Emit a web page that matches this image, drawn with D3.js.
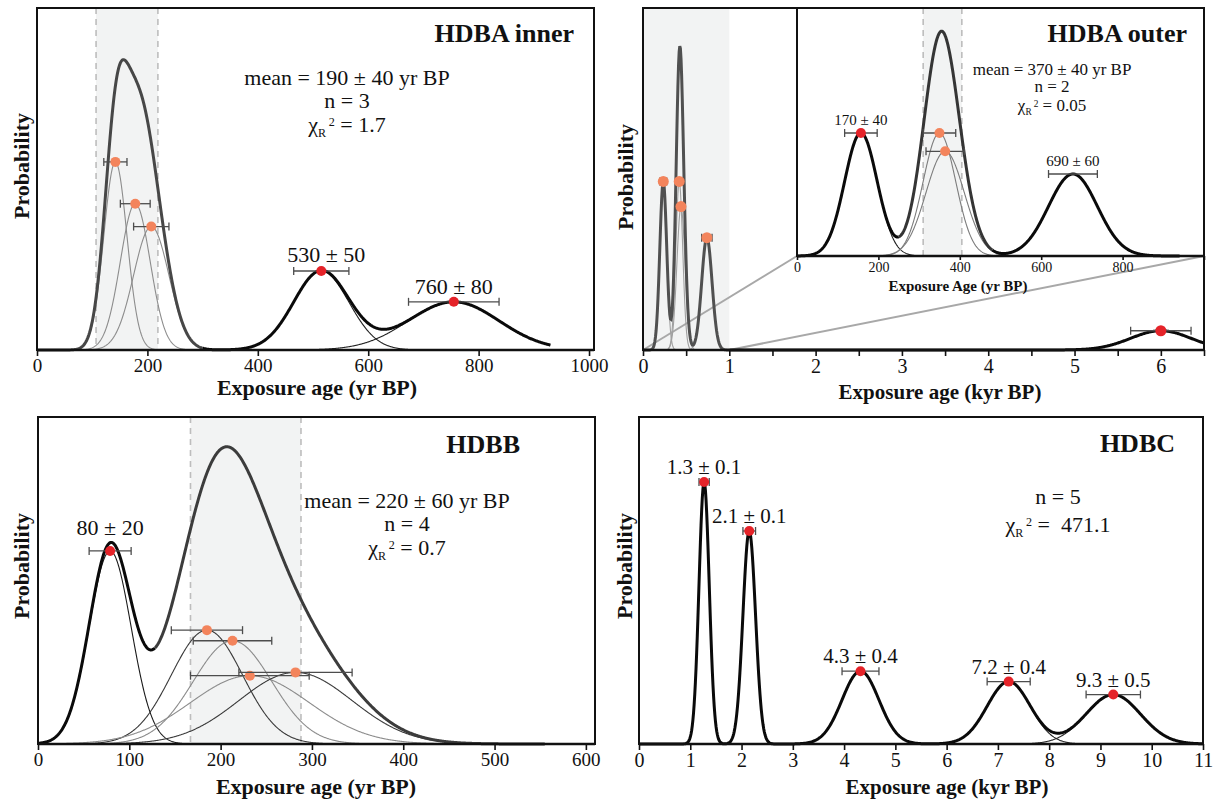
<!DOCTYPE html>
<html><head><meta charset="utf-8">
<script src="https://cdn.jsdelivr.net/npm/d3@7"></script>
<style>
body{margin:0;background:#fff;}
svg{display:block;font-family:"Liberation Serif","Times New Roman",serif;}
</style></head><body>
<svg id="c" width="1214" height="803"></svg>
<script>
// ---------------- DATA ----------------
// HDBA inner (yr BP)
const innerAges   = [142, 178, 207, 515, 755];
const innerErrors = [21, 27, 32, 50, 82];
const innerInMean = [true, true, true, false, false];
const innerLabels = ["", "", "", "530 ± 50", "760 ± 80"];
const innerTicks  = [0, 200, 400, 600, 800, 1000];
const innerBand   = [107, 219];
const innerStats  = ["mean = 190 ± 40 yr BP", "n = 3", "1.7"];

// HDBA outer, main axis (kyr BP)
const outerAges   = [0.235, 0.42, 0.44, 0.74, 6.0];
const outerErrors = [0.04, 0.04, 0.047, 0.06, 0.35];
const outerInMean = [true, true, true, true, false];
const outerTicks  = [0, 0.5, 1, 1.5, 2, 2.5, 3, 3.5, 4, 4.5, 5, 5.5, 6, 6.5];
const outerBand   = [0, 1];

// HDBA outer, inset (yr BP)
const insetAges    = [157, 350, 364, 678];
const insetErrors  = [40, 40, 47, 60];
const insetInMean  = [false, true, true, false];
const insetShowDot = [true, true, true, false];
const insetLabels  = ["170 ± 40", "", "", "690 ± 60"];
const insetTicks   = [0, 200, 400, 600, 800, 1000];
const insetBand    = [310, 405];
const insetStats   = ["mean = 370 ± 40 yr BP", "n = 2", "0.05"];

// HDBB (yr BP)
const bbAges   = [79, 185, 213, 232, 282];
const bbErrors = [23, 39, 43, 65, 62];
const bbInMean = [false, true, true, true, true];
const bbLabels = ["80 ± 20", "", "", "", ""];
const bbTicks  = [0, 100, 200, 300, 400, 500, 600];
const bbBand   = [167, 288];
const bbStats  = ["mean = 220 ± 60 yr BP", "n = 4", "0.7"];

// HDBC (kyr BP)
const bcAges   = [1.27, 2.15, 4.32, 7.21, 9.25];
const bcErrors = [0.1, 0.123, 0.36, 0.42, 0.53];
const bcLabels = ["1.3 ± 0.1", "2.1 ± 0.1", "4.3 ± 0.4", "7.2 ± 0.4", "9.3 ± 0.5"];
const bcTicks  = [0, 1, 2, 3, 4, 5, 6, 7, 8, 9, 10, 11];
const bcStats  = [null, "n = 5", " 471.1"];

// ---------------- DRAWING ----------------
const svg = d3.select("#c");
const ORANGE = "#f3845c", RED = "#e52329", INK = "#111";
const SQ2PI = Math.sqrt(2 * Math.PI);
const pdf = (x, m, s) => Math.exp(-((x - m) ** 2) / (2 * s * s)) / (s * SQ2PI);

function makePanel(o) {
  const g = svg.append("g");
  const x = d3.scaleLinear().domain(o.xDomain).range([o.box.left, o.box.right]);
  const y = d3.scaleLinear().domain([0, o.yMax]).range([o.box.bottom, o.box.top]);
  if (o.bg) g.append("rect").attr("x", o.box.left).attr("y", o.box.top)
      .attr("width", o.box.right - o.box.left).attr("height", o.box.bottom - o.box.top).attr("fill", "#fff");
  if (o.band) {
    g.append("rect").attr("x", x(o.band[0])).attr("y", o.box.top)
      .attr("width", x(o.band[1]) - x(o.band[0])).attr("height", o.box.bottom - o.box.top)
      .attr("fill", "#f2f3f3");
    if (o.bandDashed) o.band.forEach(b => g.append("line")
      .attr("x1", x(b)).attr("x2", x(b)).attr("y1", o.box.top).attr("y2", o.box.bottom)
      .attr("stroke", "#bdbdbd").attr("stroke-width", 1.6).attr("stroke-dasharray", "6,5"));
  }
  const under = g.append("g");
  const n = 900, xs = [];
  for (let i = 0; i <= n; i++) xs.push(o.xStart + (o.xEnd - o.xStart) * i / n);
  if (o.gray) { xs.push(o.gray[0], o.gray[1]); xs.sort((a, b) => a - b); }
  const sum = v => o.ages.reduce((acc, m, i) => acc + pdf(v, m, o.errs[i]), 0);
  const line = d3.line().x(d => x(d[0])).y(d => y(d[1]));
  o.ages.forEach((m, i) => {
    const pts = xs.map(v => [v, pdf(v, m, o.errs[i])]);
    g.append("path").attr("d", line(pts)).attr("fill", "none")
      .attr("stroke", o.compColor(i)).attr("stroke-width", 1.1);
  });
  const spts = xs.map(v => [v, sum(v)]);
  if (o.gray) {
    const [lo, hi] = o.gray;
    g.append("path").attr("d", d3.line().defined(d => d[0] <= lo || d[0] >= hi).x(d => x(d[0])).y(d => y(d[1]))(spts))
      .attr("fill", "none").attr("stroke", "#0a0a0a").attr("stroke-width", 3);
    g.append("path").attr("d", d3.line().defined(d => d[0] >= lo && d[0] <= hi).x(d => x(d[0])).y(d => y(d[1]))(spts))
      .attr("fill", "none").attr("stroke", o.grayColor).attr("stroke-width", 3);
  } else {
    g.append("path").attr("d", line(spts)).attr("fill", "none").attr("stroke", "#0a0a0a").attr("stroke-width", 3);
  }
  o.ages.forEach((m, i) => {
    const py = y(pdf(m, m, o.errs[i]));
    const x1 = x(m - o.errs[i]), x2 = x(m + o.errs[i]);
    const eb = g.append("g").attr("stroke", "#4d4d4d").attr("stroke-width", 1.3);
    eb.append("line").attr("x1", x1).attr("x2", x2).attr("y1", py).attr("y2", py);
    eb.append("line").attr("x1", x1).attr("x2", x1).attr("y1", py - 4).attr("y2", py + 4);
    eb.append("line").attr("x1", x2).attr("x2", x2).attr("y1", py - 4).attr("y2", py + 4);
    if (!o.showDot || o.showDot[i])
      g.append("circle").attr("cx", x(m)).attr("cy", py).attr("r", o.dotR || 5)
        .attr("fill", o.inMean && o.inMean[i] ? ORANGE : RED);
    if (o.labels && o.labels[i])
      g.append("text").attr("x", x(m) + (o.labelDx ? o.labelDx[i] : 0)).attr("y", y(sum(m)) - 8)
        .attr("text-anchor", "middle").attr("font-size", o.labelFs).attr("fill", INK).text(o.labels[i]);
  });
  const ax = g.append("g").attr("transform", `translate(0,${o.box.bottom})`)
    .call(d3.axisBottom(x).tickValues(o.ticks).tickFormat(o.tickFmt || d3.format("d"))
      .tickSize(o.tickSize || 6).tickSizeOuter(0).tickPadding(o.tickPad || 3));
  ax.select(".domain").remove();
  ax.selectAll("line").attr("stroke", INK).attr("stroke-width", 1.6);
  ax.selectAll("text").attr("font-size", o.tickFs).attr("font-family", "Liberation Serif").attr("fill", INK);
  g.append("rect").attr("x", o.box.left).attr("y", o.box.top)
    .attr("width", o.box.right - o.box.left).attr("height", o.box.bottom - o.box.top)
    .attr("fill", "none").attr("stroke", INK).attr("stroke-width", 2);
  g.append("line").attr("x1", o.box.left).attr("x2", o.box.right).attr("y1", o.box.bottom).attr("y2", o.box.bottom)
    .attr("stroke", INK).attr("stroke-width", 2.6);
  return { g, x, y, under };
}

function chiLine(g, cx, yb, val, fs) {
  const t = g.append("text").attr("x", cx).attr("y", yb).attr("text-anchor", "middle")
    .attr("font-size", fs).attr("fill", INK).style("white-space", "pre");
  t.append("tspan").text("χ");
  t.append("tspan").attr("font-size", fs * 0.55).attr("dy", fs * 0.22).text("R");
  t.append("tspan").attr("font-size", fs * 0.55).attr("dx", fs * 0.12).attr("dy", -fs * 0.48).text("2");
  t.append("tspan").attr("dy", fs * 0.26).text(" = " + val);
}
function stats(g, cx, ys, st, fs) {
  if (st[0]) g.append("text").attr("x", cx).attr("y", ys[0]).attr("text-anchor", "middle").attr("font-size", fs).attr("fill", INK).text(st[0]);
  g.append("text").attr("x", cx).attr("y", ys[1]).attr("text-anchor", "middle").attr("font-size", fs).attr("fill", INK).text(st[1]);
  chiLine(g, cx, ys[2], st[2], fs);
}
function title(g, xr, yb, txt) {
  g.append("text").attr("x", xr).attr("y", yb).attr("text-anchor", "end").attr("font-size", 26)
    .attr("font-weight", "bold").attr("fill", INK).text(txt);
}
function xTitle(cx, yb, txt, fs) {
  svg.append("text").attr("x", cx).attr("y", yb).attr("text-anchor", "middle").attr("font-size", fs)
    .attr("font-weight", "bold").attr("fill", INK).text(txt);
}
function yTitle(cx, cy) {
  svg.append("text").attr("transform", `translate(${cx},${cy}) rotate(-90)`).attr("text-anchor", "middle")
    .attr("dominant-baseline", "central").attr("font-size", 22).attr("font-weight", "bold").attr("fill", INK).text("Probability");
}

// Panel 1: HDBA inner
const p1 = makePanel({
  box: { left: 37, right: 594, top: 8, bottom: 350 }, xDomain: [0, 1009], yMax: 0.03454,
  ages: innerAges, errs: innerErrors, inMean: innerInMean, labels: innerLabels, labelDx: [0, 0, 0, 5, 0],
  ticks: innerTicks, band: innerBand, bandDashed: true, xStart: 0, xEnd: 930,
  gray: [0, 300], grayColor: "#474747", tickFs: 19, labelFs: 22,
  compColor: i => innerInMean[i] ? "#8c8c8c" : "#222"
});
title(p1.g, 574, 42, "HDBA inner");
stats(p1.g, 347, [85, 108, 132], innerStats, 22);
xTitle(317, 395, "Exposure age (yr BP)", 22);
yTitle(21, 166);

// Panel 2: HDBA outer (main)
const p2 = makePanel({
  box: { left: 643, right: 1204, top: 8, bottom: 350 }, xDomain: [0, 6.5], yMax: 20.24,
  ages: outerAges, errs: outerErrors, inMean: outerInMean,
  ticks: outerTicks, tickFmt: v => Number.isInteger(v) ? v : "", band: outerBand, bandDashed: false,
  xStart: 0, xEnd: 6.5, gray: [0, 1], grayColor: "#505050", tickFs: 20, dotR: 5.5,
  compColor: i => outerInMean[i] ? "#a0a0a0" : "#222"
});
// Inset
const pi = makePanel({
  box: { left: 797, right: 1204, top: 8, bottom: 256 }, xDomain: [0, 1000], yMax: 0.02011, bg: true,
  ages: insetAges, errs: insetErrors, inMean: insetInMean, showDot: insetShowDot, labels: insetLabels,
  ticks: insetTicks, tickFmt: v => v === 1000 ? "" : v, band: insetBand, bandDashed: true,
  xStart: 0, xEnd: 940, gray: [250, 480], grayColor: "#353535", tickFs: 14, tickSize: 4, tickPad: 2, labelFs: 15,
  compColor: i => insetInMean[i] ? "#7c7c7c" : "#222"
});
// zoom connector lines (beneath main curves)
[[0, 0], [1, 1000]].forEach(([k, yr]) => {
  p2.under.append("line").attr("x1", p2.x(k)).attr("y1", 350).attr("x2", pi.x(yr)).attr("y2", 256)
    .attr("stroke", "#a8a8a8").attr("stroke-width", 2);
});
title(pi.g, 1187, 42, "HDBA outer");
stats(pi.g, 1052, [75, 92, 111], insetStats, 17);
svg.append("text").attr("x", 958).attr("y", 291).attr("text-anchor", "middle").attr("font-size", 15)
  .attr("font-weight", "bold").attr("fill", INK).text("Exposure Age (yr BP)");
xTitle(940, 399, "Exposure age (kyr BP)", 21);
yTitle(625, 177);

// Panel 3: HDBB
const p3 = makePanel({
  box: { left: 38, right: 595, top: 417, bottom: 744 }, xDomain: [0, 610], yMax: 0.02938,
  ages: bbAges, errs: bbErrors, inMean: bbInMean, labels: bbLabels,
  ticks: bbTicks, band: bbBand, bandDashed: true, xStart: 0, xEnd: 555,
  gray: [128, 555], grayColor: "#3c3c3c", tickFs: 19, labelFs: 22,
  compColor: i => ["#1a1a1a", "#3a3a3a", "#8c8c8c", "#8c8c8c", "#3a3a3a"][i]
});
title(p3.g, 520, 453, "HDBB");
stats(p3.g, 407, [508, 531, 555], bbStats, 22);
xTitle(316, 794, "Exposure age (yr BP)", 22);
yTitle(21, 566);

// Panel 4: HDBC
const p4 = makePanel({
  box: { left: 639, right: 1203, top: 417, bottom: 744 }, xDomain: [0, 11], yMax: 4.979,
  ages: bcAges, errs: bcErrors, labels: bcLabels,
  ticks: bcTicks, xStart: 0, xEnd: 11, tickFs: 20, labelFs: 21,
  compColor: i => "#222"
});
title(p4.g, 1175, 452, "HDBC");
stats(p4.g, 1058, [0, 504, 532], bcStats, 22);
xTitle(947, 794, "Exposure age (kyr BP)", 21);
yTitle(624, 566);
</script>
</body></html>
